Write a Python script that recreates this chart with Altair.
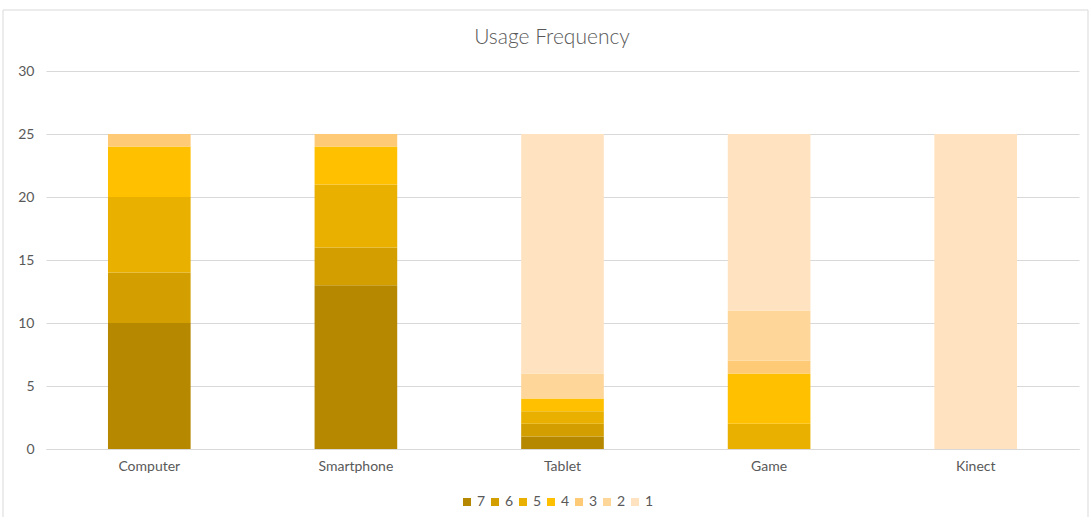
import altair as alt
import pandas as pd

devices = ["Computer", "Smartphone", "Tablet", "Game", "Kinect"]
levels = ["7", "6", "5", "4", "3", "2", "1"]
colors = ["#B58800", "#D29E00", "#E9B000", "#FFC000", "#FFCA76", "#FFD699", "#FFE3C0"]
counts = {
    "7": [10, 13, 1, 0, 0],
    "6": [4, 3, 1, 0, 0],
    "5": [6, 5, 1, 2, 0],
    "4": [4, 3, 1, 4, 0],
    "3": [1, 1, 0, 1, 0],
    "2": [0, 0, 2, 4, 0],
    "1": [0, 0, 19, 14, 25],
}
title_text = "Usage Frequency"

rows = []
for i, lv in enumerate(levels):
    for d, v in zip(devices, counts[lv]):
        rows.append({"device": d, "level": lv, "order": i, "count": v})
df = pd.DataFrame(rows)

FONT = "Lato"

bars = alt.Chart(df).mark_bar().encode(
    x=alt.X("device:N", sort=devices, title=None,
            scale=alt.Scale(paddingInner=0.6, paddingOuter=0.3),
            axis=alt.Axis(labelAngle=0, ticks=False, domainColor="#d9d9d9",
                          labelFontSize=14, labelColor="#595959", labelPadding=10,
                          labelFont=FONT)),
    y=alt.Y("sum(count):Q", title=None, stack="zero",
            scale=alt.Scale(domain=[0, 30], nice=False),
            axis=alt.Axis(values=[0, 5, 10, 15, 20, 25, 30], ticks=False, domain=False,
                          gridColor="#d9d9d9", labelFontSize=14, labelColor="#595959",
                          labelPadding=12, labelFont=FONT)),
    color=alt.Color("level:N", sort=levels,
                    scale=alt.Scale(domain=levels, range=colors),
                    legend=alt.Legend(title=None, orient="none", direction="horizontal",
                                      legendX=414, legendY=424,
                                      symbolType="square", symbolSize=64,
                                      symbolStrokeWidth=0, labelFontSize=14,
                                      labelColor="#595959", labelFont=FONT,
                                      labelOffset=3, columnPadding=2)),
    order=alt.Order("order:Q", sort="ascending"),
)

border = alt.Chart(pd.DataFrame({"a": [0]})).mark_rect(
    fill=None, stroke="#d9d9d9", strokeWidth=1
).encode(
    x=alt.value(-43), x2=alt.value(1042), y=alt.value(-61), y2=alt.value(450)
)

title = alt.Chart(pd.DataFrame({"t": [title_text]})).mark_text(
    font=FONT, fontSize=21, fontWeight=300, color="#595959", align="center",
    baseline="middle"
).encode(
    text="t:N", x=alt.value(506), y=alt.value(-33)
)

chart = alt.layer(border, bars, title).properties(
    width=1033,
    height=378,
    autosize=alt.AutoSizeParams(type="none"),
    padding={"left": 46, "top": 71, "right": 10, "bottom": 68},
).configure_view(stroke=None)

chart.save("out.html", embed_options={"renderer": "svg", "actions": False})
